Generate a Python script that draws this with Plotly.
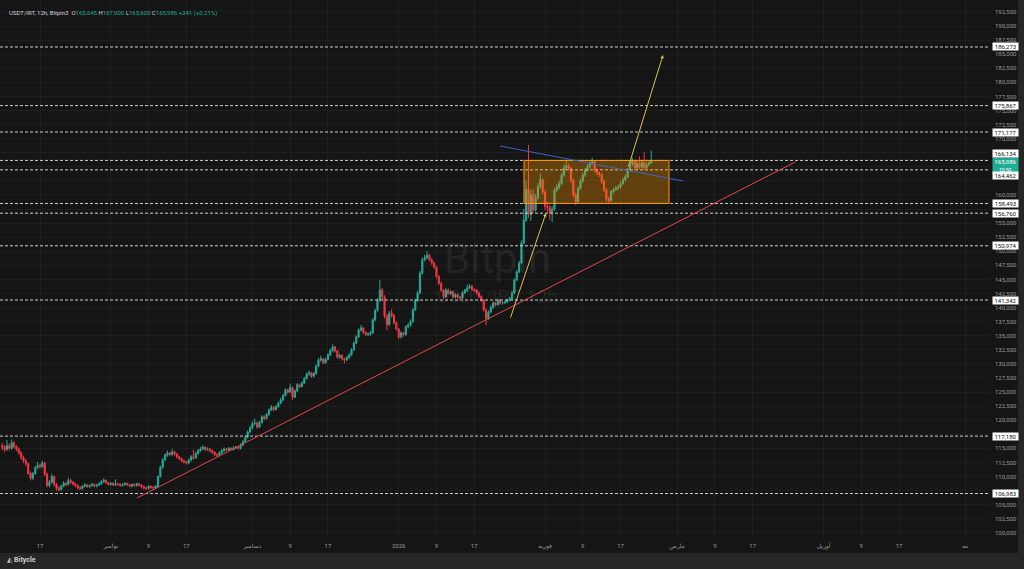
import pandas as pd
import plotly.graph_objects as go

# ---------------- data (USDT/IRT, 12h candles) ----------------
start_time = "2025-10-09 00:00"

opens = [115500,115200,114800,115500,115000,116000,115300,114900,114200,113400,
112800,112300,110600,109700,110500,111600,112000,111800,112400,110400,
108400,109000,110000,108600,107900,107700,108300,108800,108600,109300,
109000,108700,108400,108000,107900,108300,108500,108200,108400,108600,
108300,108500,108700,109100,109300,108900,108600,108800,108500,108700,
108600,108400,108600,108800,108500,108300,108600,108400,108700,108500,
108200,108000,107900,108300,108100,108000,108300,110000,111600,113000,
113800,114200,113900,114400,114000,113500,113200,112800,112600,112400,
112900,113500,113300,114100,114600,114900,115200,114800,114900,114600,
114300,113900,113800,114200,114600,114900,114700,115000,114800,115100,
115200,115000,115600,116200,117000,117900,118600,119400,119500,118800,
119600,120600,120300,121000,121800,122300,121900,122400,123000,123600,
124400,125400,125000,125800,124100,125200,126300,126000,126600,127400,
128200,128400,127800,128300,129600,130700,130900,130200,130800,131600,
132400,133000,132300,131200,131500,130900,130700,131100,131600,132500,
133700,134800,136000,136400,135600,135200,135300,135500,137800,139500,
141300,143100,141900,138500,137000,139000,138600,137300,136200,134800,
135500,135200,136600,136900,137500,139600,141200,142600,146100,148500,
148900,149300,148500,147900,147200,145500,144300,143100,141900,143100,
142500,142800,141900,142300,141900,141700,142600,143000,143500,143800,
143200,143100,142600,142000,141300,139600,138100,139200,140000,140800,
140500,141300,140800,140900,141000,141300,141600,142600,144900,146300,
147900,151500,155500,161000,156500,160000,157300,159500,161500,162700,
160500,158000,157800,156800,157500,160900,161400,162000,163500,164800,
165200,164700,162600,160000,158800,161200,162500,163500,164400,165000,
165600,165900,164400,163900,163600,162400,160900,159300,159000,160600,
160900,161200,161400,162000,162700,163200,164400,165500,166000,164800,
165600,164900,165700,164800,165400,165645]

highs = [116000,115600,116500,115900,116600,116300,115600,115200,114500,113700,
113100,112500,110900,110800,111900,112600,112300,112800,112600,110700,
109400,110500,110200,108900,108300,108600,109200,109000,109800,109600,
109200,108900,108600,108300,108500,108800,108700,108600,108900,108800,
108700,109000,109400,109700,109500,109100,109000,109000,109500,108900,
108800,108800,109000,108900,108700,108800,108800,108900,108900,108600,
108400,108200,108500,108400,108300,108500,110200,111900,113300,114100,
114600,114400,114900,114600,114200,113700,113400,113000,112800,113200,
113800,114800,114400,114900,115300,115600,115400,115200,115100,114800,
114500,114100,114500,114900,115200,115100,115300,115200,115400,115500,
115400,115900,116500,117300,118200,119000,119800,120300,119800,119900,
120900,120900,121300,122100,122700,122500,122700,123300,124000,124700,
125700,125600,126500,126000,125500,126600,126500,126900,127700,128500,
128800,128600,128600,129900,131000,131500,131100,131100,131900,132700,
133500,133200,132500,131800,131700,131100,131400,131900,132800,134000,
135100,136300,136900,136600,135800,135600,135900,138100,139800,141700,
144900,143500,142200,138800,139400,139700,138900,137600,136400,135800,
135700,136900,137300,137900,139900,141600,143000,146500,148900,149400,
150000,149600,148800,148200,147400,145800,144600,143300,143500,143400,
143100,143000,142600,142500,142100,142900,143300,144100,144200,144000,
143500,143300,142800,142200,141500,139900,139500,140400,141100,141000,
141600,141500,141100,141300,141600,141900,142900,145200,146700,148300,
151900,157500,162600,168900,160900,161000,160200,162100,163800,163000,
160900,158700,158200,158000,161300,161900,162500,163900,165400,166000,
165600,165000,162900,160400,161500,162900,163900,164800,165500,166000,
166600,166200,164700,164200,163900,162700,161200,159700,160900,161300,
161600,161800,162400,163100,163600,164800,166000,166600,166300,166100,
166900,166200,167600,165800,166200,167900]

lows = [114700,114300,114600,114600,114800,115000,114500,113900,113000,112400,
111800,110300,109300,109400,110300,111300,111400,111500,110100,108100,
108100,108800,108300,107500,107300,107500,108100,108300,108400,108700,
108400,108100,107700,107600,107700,108100,108000,108000,108200,108100,
108100,108300,108500,108900,108700,108400,108400,108300,108300,108400,
108200,108200,108400,108300,108100,108100,108200,108200,108300,107900,
107700,107600,107700,107800,107700,107800,108100,109800,111400,112700,
113500,113600,113700,113700,113200,112900,112500,112300,112100,112200,
112700,113000,113100,113900,114400,114700,114500,114600,114300,114000,
113600,113500,113600,114000,114400,114500,114500,114600,114600,114900,
114800,114800,115400,116000,116800,117700,118400,119100,118500,118600,
119400,120000,120100,120800,121600,121600,121700,122200,122800,123400,
124200,124700,124800,123600,123900,125000,125700,125800,126400,127200,
127900,127500,127600,128100,129400,130400,129900,130000,130600,131400,
132100,132000,130900,130900,130600,130100,130500,130900,131400,132300,
133500,134600,135800,135300,134900,134900,135000,135300,137600,139300,
141000,141400,138100,136000,136700,138200,137000,135900,134400,134500,
134800,135000,136300,136600,137300,139400,141000,142400,145900,148200,
148600,148200,147600,146900,145200,144000,142800,141500,141700,142200,
142200,141600,141600,141600,141400,141500,142400,142800,143300,142900,
142800,142300,141700,141000,139300,136900,137800,139000,139800,140200,
140300,140500,140500,140600,140800,141100,141400,142400,144700,146100,
147700,151300,155200,155900,155400,156800,157000,159200,161100,160100,
157300,156900,155600,155200,157200,160500,161000,161800,163200,164500,
164300,162200,159600,158200,158500,160900,162200,163200,164100,164700,
165300,164000,163500,163200,162000,160500,158800,158400,158800,160300,
160700,160900,161100,161800,162400,163000,164200,165200,164500,164500,
164600,164700,164500,164600,165100,165600]

closes = [115200,114800,115500,115000,116000,115300,114900,114200,113400,112800,
112300,110600,109700,110500,111600,112000,111800,112400,110400,108400,
109000,110000,108600,107900,107700,108300,108800,108600,109300,109000,
108700,108400,108000,107900,108300,108500,108200,108400,108600,108300,
108500,108700,109100,109300,108900,108600,108800,108500,108700,108600,
108400,108600,108800,108500,108300,108600,108400,108700,108500,108200,
108000,107900,108300,108100,108000,108300,110000,111600,113000,113800,
114200,113900,114400,114000,113500,113200,112800,112600,112400,112900,
113500,113300,114100,114600,114900,115200,114800,114900,114600,114300,
113900,113800,114200,114600,114900,114700,115000,114800,115100,115200,
115000,115600,116200,117000,117900,118600,119400,119500,118800,119600,
120600,120300,121000,121800,122300,121900,122400,123000,123600,124400,
125400,125000,125800,124100,125200,126300,126000,126600,127400,128200,
128400,127800,128300,129600,130700,130900,130200,130800,131600,132400,
133000,132300,131200,131500,130900,130700,131100,131600,132500,133700,
134800,136000,136400,135600,135200,135300,135500,137800,139500,141300,
143100,141900,138500,137000,139000,138600,137300,136200,134800,135500,
135200,136600,136900,137500,139600,141200,142600,146100,148500,148900,
149300,148500,147900,147200,145500,144300,143100,141900,143100,142500,
142800,141900,142300,141900,141700,142600,143000,143500,143800,143200,
143100,142600,142000,141300,139600,138100,139200,140000,140800,140500,
141300,140800,140900,141000,141300,141600,142600,144900,146300,147900,
151500,155500,161000,156500,160000,157300,159500,161500,162700,160500,
158000,157800,156800,157500,160900,161400,162000,163500,164800,165200,
164700,162600,160000,158800,161200,162500,163500,164400,165000,165600,
165900,164400,163900,163600,162400,160900,159300,159000,160600,160900,
161200,161400,162000,162700,163200,164400,165500,166000,164800,165600,
164900,165700,164800,165400,165645,165986]

# horizontal support / resistance levels drawn on the chart
levels = [186273, 175867, 171177, 166134, 164462, 158493, 156760, 150974, 141342, 117180, 106983]
level_labels = ["186,273", "175,867", "171,177", "166,134", "164,462", "158,493",
                "156,760", "150,974", "141,342", "117,180", "106,983"]
last_price = 165986
last_label = "165,986<br><span style='font-size:5px'>10:50</span>"

# drawings (time, price)
red_trend = [("2025-11-06 13:12", 106192), ("2026-03-26 00:00", 165852)]
blue_trend = [("2026-01-22 11:00", 168693), ("2026-03-02 04:48", 162478)]
yellow_leg1 = [("2026-01-24 13:55", 137975), ("2026-02-01 04:48", 156796)]
yellow_leg2 = [("2026-02-18 13:55", 164787), ("2026-02-26 00:00", 184851)]
range_box = [("2026-01-27 13:00", 158493), ("2026-02-27 06:14", 166134)]

# axes
x_range = ["2025-10-08 12:36", "2026-05-06 06:30"]
y_range = [99267, 194616]
x_tickvals = ["2025-10-17", "2025-11-01", "2025-11-09", "2025-11-17", "2025-12-01", "2025-12-09",
              "2025-12-17", "2026-01-01", "2026-01-09", "2026-01-17", "2026-02-01", "2026-02-09",
              "2026-02-17", "2026-03-01", "2026-03-09", "2026-03-17", "2026-04-01", "2026-04-09",
              "2026-04-17", "2026-05-01"]
x_ticktext = ["17", "نوامبر", "9", "17", "دسامبر", "9", "17", "2026", "9", "17",
              "فوریه", "9", "17", "مارس", "9", "17", "آوریل", "9", "17", "مه"]
y_tickvals = list(range(100000, 192501, 2500))
# price-scale ticks hidden behind the level labels in the original
y_hidden = {107500, 117500, 157500, 162500, 165000}
y_ticktext = ["" if v in y_hidden else f"{v:,}" for v in y_tickvals]

# ---------------- styling ----------------
BG = "#151515"
UP = "#22ab94"
DOWN = "#f23645"
AXIS_TXT = "#9a9a9a"
FONT = "Roboto, 'DejaVu Sans', sans-serif"

times = pd.date_range(start_time, periods=len(closes), freq="12h")

fig = go.Figure()
fig.add_trace(go.Candlestick(
    x=times, open=opens, high=highs, low=lows, close=closes,
    increasing=dict(line=dict(color=UP, width=1), fillcolor=UP),
    decreasing=dict(line=dict(color=DOWN, width=1), fillcolor=DOWN),
    whiskerwidth=0, showlegend=False, hoverinfo="skip",
))

shapes = []
# horizontal dashed levels
for lv in levels:
    shapes.append(dict(type="line", xref="paper", yref="y", x0=0, x1=1, y0=lv, y1=lv,
                       line=dict(color="#cfcfcf", width=1, dash="3px,2px"), layer="above"))
# range rectangle
shapes.append(dict(type="rect", xref="x", yref="y",
                   x0=range_box[0][0], x1=range_box[1][0], y0=range_box[0][1], y1=range_box[1][1],
                   fillcolor="rgba(255,152,0,0.33)", line=dict(color="#ff9800", width=1), layer="above"))
# trend lines
shapes.append(dict(type="line", xref="x", yref="y",
                   x0=red_trend[0][0], y0=red_trend[0][1], x1=red_trend[1][0], y1=red_trend[1][1],
                   line=dict(color="#e0474f", width=1), layer="above"))
shapes.append(dict(type="line", xref="x", yref="y",
                   x0=blue_trend[0][0], y0=blue_trend[0][1], x1=blue_trend[1][0], y1=blue_trend[1][1],
                   line=dict(color="#3f63c8", width=1), layer="above"))
# bottom bar and right strip of the window frame
shapes.append(dict(type="rect", xref="paper", yref="paper", x0=-0.01, x1=1.04,
                   y0=-33 / 537, y1=-16 / 537, fillcolor="#262626", line=dict(width=0), layer="above"))
shapes.append(dict(type="rect", xref="paper", yref="paper", x0=1018 / 990, x1=1.04,
                   y0=-33 / 537, y1=1.01, fillcolor="#262626", line=dict(width=0), layer="above"))

annotations = []
# yellow projection arrows
for leg in (yellow_leg1, yellow_leg2):
    annotations.append(dict(x=leg[1][0], y=leg[1][1], ax=leg[0][0], ay=leg[0][1],
                            xref="x", yref="y", axref="x", ayref="y", text="",
                            showarrow=True, arrowhead=2, arrowsize=0.7, arrowwidth=1,
                            arrowcolor="#d8c25e"))
# current price label (green) first, level labels drawn on top
annotations.append(dict(xref="paper", yref="y", x=1, y=last_price, xanchor="left", yanchor="top",
                        xshift=2, yshift=4, text=last_label, showarrow=False, bgcolor=UP,
                        font=dict(size=6, color="#ffffff", family=FONT), width=25, height=15,
                        borderpad=0, align="center", valign="middle"))
# price level labels on the price scale
shifts = {166134: 7, 164462: -5.5}
for lv, lab in zip(levels, level_labels):
    annotations.append(dict(xref="paper", yref="y", x=1, y=lv, xanchor="left", yanchor="middle",
                            xshift=2, yshift=shifts.get(lv, 0), text=lab, showarrow=False,
                            bgcolor="#ffffff", font=dict(size=6, color="#111111", family=FONT),
                            width=25, height=7, borderpad=0))
# watermark
annotations.append(dict(xref="paper", yref="paper", x=497 / 990, y=1 - 258 / 537, text="Bitpin",
                        showarrow=False, font=dict(size=42, color="rgba(255,255,255,0.07)", family=FONT)))
annotations.append(dict(xref="paper", yref="paper", x=497 / 990, y=1 - 296 / 537, text="USDT/IRT, 12h",
                        showarrow=False, font=dict(size=19, color="rgba(255,255,255,0.07)", family=FONT)))
# header legend
g = lambda s: f"<span style='color:{UP}'>{s}</span>"
header = ("USDT/IRT, 12h, Bitpin3  O" + g("165,645") + " H" + g("167,900") + " L" + g("165,600")
          + " C" + g("165,986") + " " + g("+341 (+0.21%)"))
annotations.append(dict(xref="paper", yref="paper", x=0, y=1, xanchor="left", yanchor="top",
                        xshift=7, yshift=-7, text=header, showarrow=False,
                        font=dict(size=6, color="#d1d4dc", family=FONT)))
# footer brand
annotations.append(dict(xref="paper", yref="paper", x=0, y=0, xanchor="left", yanchor="middle",
                        xshift=5, yshift=-23, text="<b>◭ Bitycle</b>", showarrow=False,
                        font=dict(size=7, color="#cfcfcf", family=FONT)))

fig.update_layout(
    width=1024, height=569,
    margin=dict(l=0, r=34, t=0, b=32),
    paper_bgcolor=BG, plot_bgcolor=BG,
    shapes=shapes, annotations=annotations,
    showlegend=False, dragmode=False,
    font=dict(family=FONT, size=6, color=AXIS_TXT),
    xaxis=dict(type="date", range=x_range, tickvals=x_tickvals, ticktext=x_ticktext,
               showgrid=True, gridcolor="rgba(255,255,255,0.035)", gridwidth=1,
               zeroline=False, showline=False, ticks="", ticklabelstandoff=4,
               tickfont=dict(size=6, color=AXIS_TXT), rangeslider=dict(visible=False),
               fixedrange=True),
    yaxis=dict(side="right", range=y_range, tickvals=y_tickvals, ticktext=y_ticktext,
               showgrid=True, gridcolor="rgba(255,255,255,0.035)", gridwidth=1,
               zeroline=False, showline=False, ticks="", ticklabelstandoff=4,
               tickfont=dict(size=6, color=AXIS_TXT), fixedrange=True),
)

fig.write_html("out.html", include_plotlyjs=True, config={"displayModeBar": False},
               post_script="document.body.style.margin='0';document.body.style.overflow='hidden';")
